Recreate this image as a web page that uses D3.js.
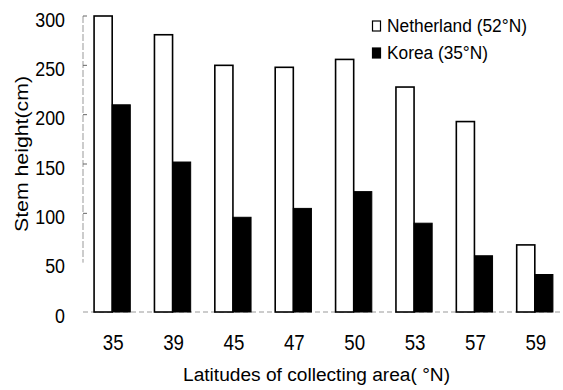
<!DOCTYPE html>
<html>
<head>
<meta charset="utf-8">
<script src="https://cdn.jsdelivr.net/npm/d3@7"></script>
<style>
html,body{margin:0;padding:0;background:#fff;}
text{font-family:"Liberation Sans",Arial,sans-serif;fill:#000;}
</style>
</head>
<body>
<svg id="chart" width="563" height="390"></svg>
<script>
const categories = ["35","39","45","47","50","53","57","59"];
const netherland = [300, 281, 250, 248, 256, 228, 193, 68];
const korea = [210, 152, 96, 105, 122, 90, 57, 38];
const yTicks = [0, 50, 100, 150, 200, 250, 300];
const seriesNames = ["Netherland (52°N)", "Korea (35°N)"];
const xTitle = "Latitudes of collecting area( °N)";
const yTitle = "Stem height(cm)";

const svg = d3.select("#chart");
const x0 = d3.scaleBand().domain(categories).range([82, 565]).paddingInner(0.4).paddingOuter(0.2);
const x1 = d3.scaleBand().domain(["n","k"]).range([0, x0.bandwidth()]);
const y = d3.scaleLinear().domain([0, 300]).range([312, 16]);

// y axis: faint dashed line with short ticks
svg.append("line").attr("x1", 83).attr("x2", 83).attr("y1", y(300)).attr("y2", y(50))
  .attr("stroke", "#999").attr("stroke-width", 1).attr("stroke-dasharray", "7,2");
svg.selectAll(".ytick").data(yTicks.filter(d => d > 50)).enter().append("line")
  .attr("x1", 83).attr("x2", 87).attr("y1", d => y(d)).attr("y2", d => y(d))
  .attr("stroke", "#666").attr("stroke-width", 1);
// baseline
svg.append("line").attr("x1", 83).attr("x2", 560).attr("y1", y(0)).attr("y2", y(0))
  .attr("stroke", "#999").attr("stroke-width", 1).attr("stroke-dasharray", "5,3");

// y tick labels
svg.selectAll(".ylab").data(yTicks).enter().append("g")
  .attr("transform", d => `translate(65,${y(d) + 3}) scale(0.85,1)`)
  .append("text").attr("text-anchor", "end").attr("dominant-baseline", "central")
  .attr("font-size", 21).text(d => d);

// bars
const groups = svg.selectAll(".grp").data(categories).enter().append("g")
  .attr("transform", d => `translate(${x0(d)},0)`);
groups.append("rect")
  .attr("x", x1("n")).attr("width", x1.bandwidth())
  .attr("y", (d, i) => y(netherland[i])).attr("height", (d, i) => y(0) - y(netherland[i]))
  .attr("fill", "#fff").attr("stroke", "#000").attr("stroke-width", 1.6);
groups.append("rect")
  .attr("x", x1("k")).attr("width", x1.bandwidth())
  .attr("y", (d, i) => y(korea[i])).attr("height", (d, i) => y(0) - y(korea[i]))
  .attr("fill", "#000").attr("stroke", "#000").attr("stroke-width", 1);

// x tick labels
svg.selectAll(".xlab").data(categories).enter().append("g")
  .attr("transform", d => `translate(${x0(d) + x0.bandwidth() / 2 + 1},350) scale(0.85,1)`)
  .append("text").attr("text-anchor", "middle").attr("font-size", 22).text(d => d);

// axis titles
svg.append("text").attr("x", 183).attr("y", 381).attr("font-size", 18)
  .attr("textLength", 267).attr("lengthAdjust", "spacingAndGlyphs").text(xTitle);
svg.append("text").attr("transform", "translate(28,154) rotate(-90)")
  .attr("text-anchor", "middle").attr("font-size", 19)
  .attr("textLength", 156).attr("lengthAdjust", "spacingAndGlyphs").text(yTitle);

// legend
const legY = [26, 53];
const leg = svg.selectAll(".leg").data(seriesNames).enter().append("g")
  .attr("transform", (d, i) => `translate(372,${legY[i]})`);
leg.append("rect").attr("x", 0.5).attr("y", -5).attr("width", 8).attr("height", 10)
  .attr("fill", (d, i) => i === 0 ? "#fff" : "#000").attr("stroke", "#000").attr("stroke-width", 1.2);
leg.append("text").attr("x", 15).attr("y", 0).attr("dominant-baseline", "central")
  .attr("font-size", 18).attr("lengthAdjust", "spacingAndGlyphs")
  .attr("textLength", (d, i) => i === 0 ? 140 : 101).text(d => d);
</script>
</body>
</html>
